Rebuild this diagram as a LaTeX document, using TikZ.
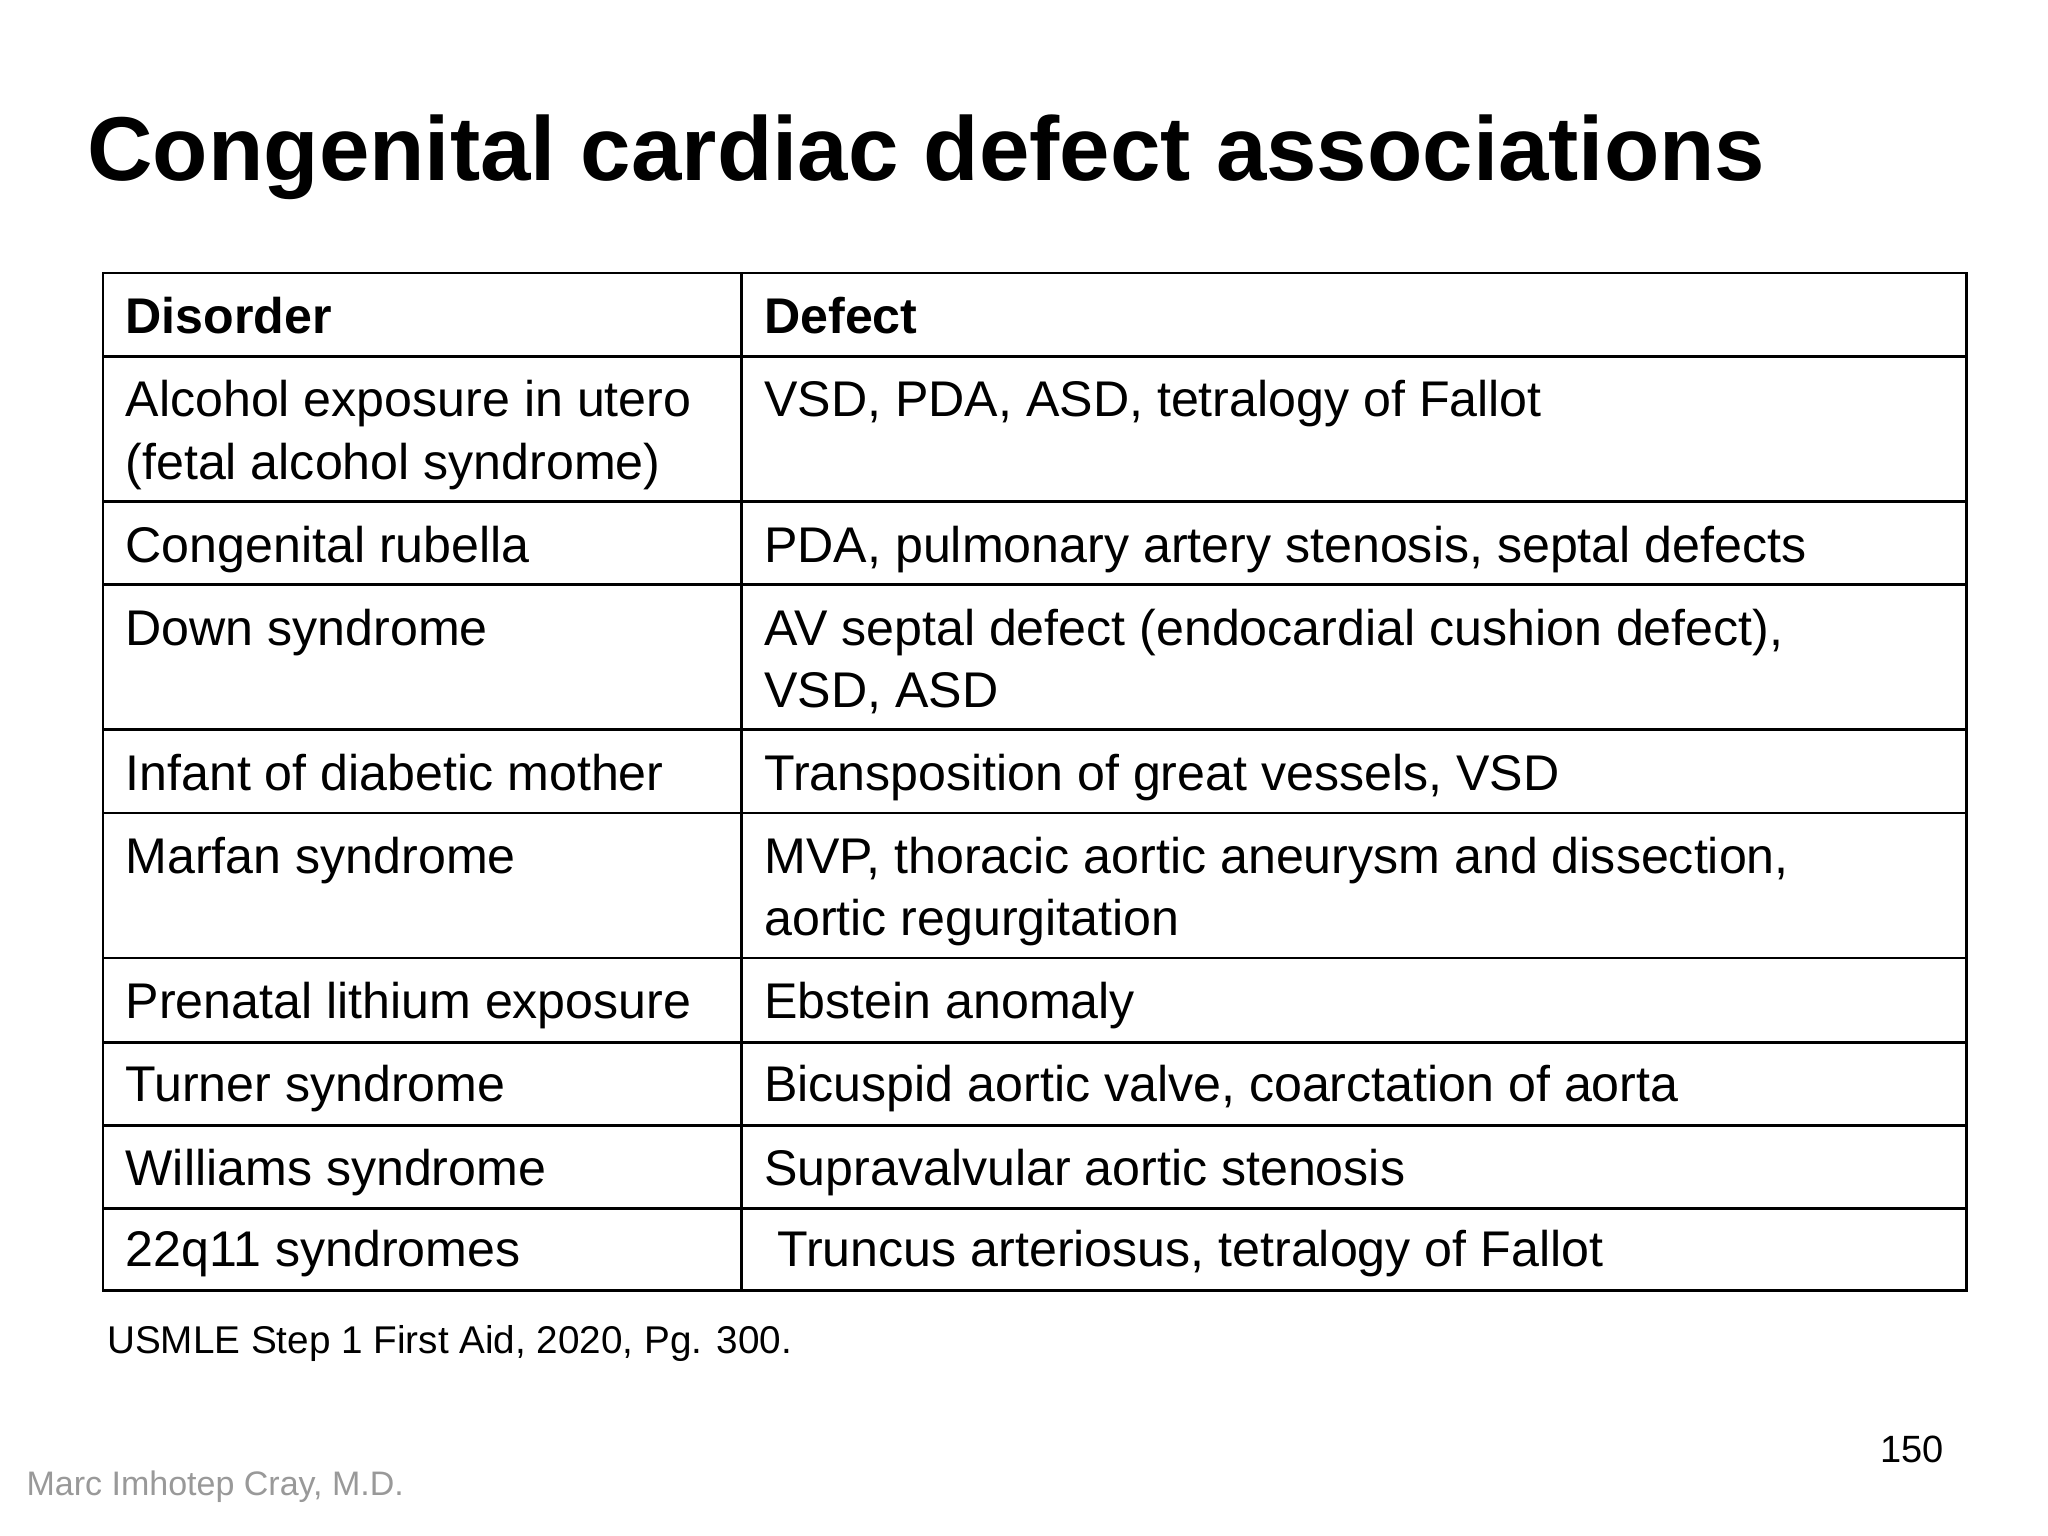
\documentclass[tikz,border=0pt]{standalone}
\usepackage{fontspec}
\setmainfont{Liberation Sans}
\begin{document}
\begin{tikzpicture}[x=0.9896pt,y=-0.9896pt,
  cell/.style={anchor=base west,inner sep=0pt,font=\fontsize{37.6}{40}\selectfont},
  grid/.style={line width=2pt,black}]
\useasboundingbox (0,0) rectangle (1552,1164);
\fill[white] (0,0) rectangle (1552,1164);
\node[anchor=base west,inner sep=0pt,font=\fontsize{68}{72}\selectfont\bfseries] (title) at (66,137) {Congenital cardiac defect associations};
% grid
\draw[grid] (78,207) rectangle (1490,978);
\draw[grid] (562,207) -- (562,978);
\foreach \y in {270,380,443,553,616,726,790,853,916} \draw[grid] (78,\y) -- (1490,\y);
% header
\node[cell,font=\fontsize{37.6}{40}\selectfont\bfseries] (h1) at (95,253) {Disorder};
\node[cell,font=\fontsize{37.6}{40}\selectfont\bfseries] (h2) at (579,253) {Defect};
% rows
\node[cell] (a1) at (95,316) {Alcohol exposure in utero};
\node[cell] (a2) at (95,363) {(fetal alcohol syndrome)};
\node[cell] (b1) at (579,316) {VSD, PDA, ASD, tetralogy of Fallot};
\node[cell] (a3) at (95,426) {Congenital rubella};
\node[cell] (b3) at (579,426) {PDA, pulmonary artery stenosis, septal defects};
\node[cell] (a4) at (95,489) {Down syndrome};
\node[cell] (b4) at (579,489) {AV septal defect (endocardial cushion defect),};
\node[cell] (b4b) at (579,536) {VSD, ASD};
\node[cell] (a5) at (95,599) {Infant of diabetic mother};
\node[cell] (b5) at (579,599) {Transposition of great vessels, VSD};
\node[cell] (a6) at (95,662) {Marfan syndrome};
\node[cell] (b6) at (579,662) {MVP, thoracic aortic aneurysm and dissection,};
\node[cell] (b6b) at (579,709) {aortic regurgitation};
\node[cell] (a7) at (95,772) {Prenatal lithium exposure};
\node[cell] (b7) at (579,772) {Ebstein anomaly};
\node[cell] (a8) at (95,835) {Turner syndrome};
\node[cell] (b8) at (579,835) {Bicuspid aortic valve, coarctation of aorta};
\node[cell] (a9) at (95,898) {Williams syndrome};
\node[cell] (b9) at (579,898) {Supravalvular aortic stenosis};
\node[cell] (a10) at (95,960) {22q11 syndromes};
\node[cell] (b10) at (589,960) {Truncus arteriosus, tetralogy of Fallot};
% footer
\node[anchor=base west,inner sep=0pt,font=\fontsize{29}{32}\selectfont] (src) at (81,1026) {USMLE Step 1 First Aid, 2020, Pg. 300.};
\node[anchor=base east,inner sep=0pt,font=\fontsize{28.5}{30}\selectfont] (pg) at (1473,1108) {150};
\node[anchor=base west,inner sep=0pt,font=\fontsize{25.5}{28}\selectfont,text=black!40] (auth) at (20,1133) {Marc Imhotep Cray, M.D.};
\end{tikzpicture}
\end{document}
